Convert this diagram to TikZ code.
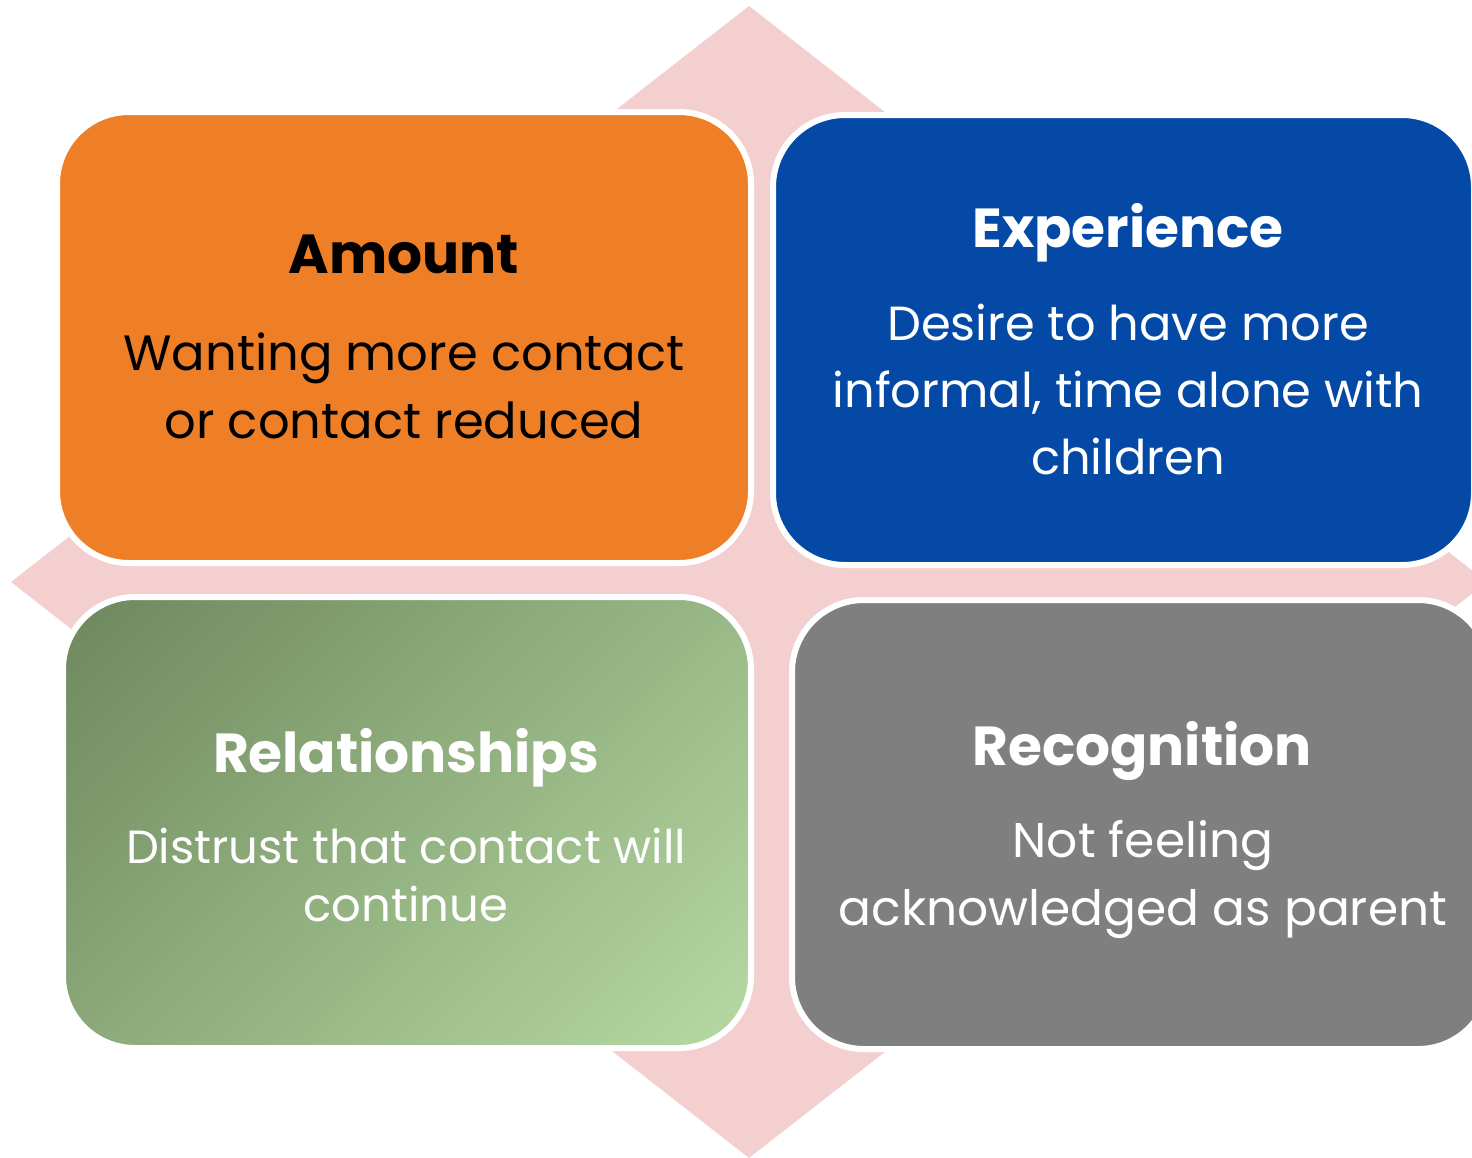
\documentclass[tikz,border=0pt]{standalone}
\usepackage{fontspec}
\setmainfont{Poppins}
\definecolor{pinkc}{HTML}{F4CFCF}
\definecolor{orangec}{HTML}{EE7F27}
\definecolor{bluec}{HTML}{0349A5}
\definecolor{grayc}{HTML}{7F7F7F}
\definecolor{greendark}{HTML}{6C865C}
\definecolor{greenlight}{HTML}{B8DBA4}
\pgfdeclareverticalshading{greenshade}{100bp}{color(0bp)=(greenlight); color(13bp)=(greenlight); color(87bp)=(greendark); color(100bp)=(greendark)}
\begin{document}
\begin{tikzpicture}[x=1pt,y=-1pt,
  box/.style={draw=white, line width=6pt, rounded corners=72pt},
  ttl/.style={anchor=base, inner sep=0pt, font=\fontsize{55}{66}\selectfont\bfseries},
  body/.style={anchor=base, inner sep=0pt, align=center}]
\useasboundingbox (0,0) rectangle (1472,1157);
\clip (0,0) rectangle (1472,1157);
\fill[pinkc] (749,6) -- (11,582) -- (749,1158) -- (1487,582) -- cycle;
% boxes
\path[box, fill=orangec] (57,112) rectangle (751,563);
\path[box, fill=bluec] (773,115) rectangle (1474,565);
\shadedraw[box, shading=greenshade, shading angle=45] (63,597) rectangle (751,1048);
\path[box, fill=grayc] (792,600) rectangle (1490,1049);
% texts (body nodes are placed at the baseline of their last line)
\node (amttl) [ttl, text=black] at (404,273) {Amount};
\node (amtxt) [body, text=black, font=\fontsize{49.6}{68}\selectfont] at (404,438) {Wanting more contact\\or contact reduced};
\node (exttl) [ttl, text=white] at (1128,247) {Experience};
\node (extxt) [body, text=white, font=\fontsize{47.9}{67}\selectfont] at (1128,474) {Desire to have more\\informal, time alone with\\children};
\node (relttl) [ttl, text=white] at (406,772) {Relationships};
\node (reltxt) [body, text=white, font=\fontsize{46.5}{58}\selectfont] at (406,921) {Distrust that contact will\\continue};
\node (recttl) [ttl, text=white] at (1142,765) {Recognition};
\node (rectxt) [body, text=white, font=\fontsize{48.7}{68}\selectfont] at (1143,925) {Not feeling\\acknowledged as parent};
\end{tikzpicture}
\end{document}
